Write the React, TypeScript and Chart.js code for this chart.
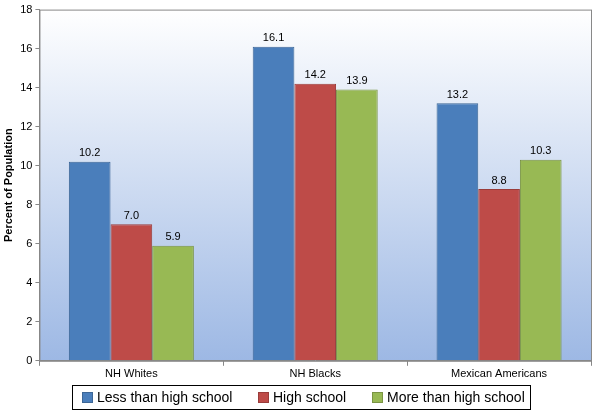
import React, { useEffect, useRef } from "react";
import { Chart, registerables } from "chart.js";
Chart.register(...registerables);

const categories = ["NH Whites", "NH Blacks", "Mexican Americans"];
const seriesNames = ["Less than high school", "High school", "More than high school"];
const lessHS = [10.2, 16.1, 13.2];
const highSchool = [7.0, 14.2, 8.8];
const moreHS = [5.9, 13.9, 10.3];
const colors = ["#4A7EBB", "#BE4B48", "#98B954"];
const borders = ["#3C6696", "#9A3C3A", "#7A9443"];

const bgPlugin = {
  id: "bg",
  beforeDraw(chart: any) {
    const { ctx, chartArea: a } = chart;
    const g = ctx.createLinearGradient(0, a.top, 0, a.bottom);
    g.addColorStop(0, "#FFFFFF");
    g.addColorStop(1, "#9DB8E4");
    ctx.save();
    ctx.fillStyle = g;
    ctx.fillRect(a.left, a.top, a.right - a.left, a.bottom - a.top);
    ctx.restore();
  },
  afterDraw(chart: any) {
    const { ctx, chartArea: a } = chart;
    ctx.save();
    ctx.strokeStyle = "#888";
    ctx.lineWidth = 1;
    ctx.strokeRect(a.left + 0.5, a.top + 0.5, a.right - a.left, a.bottom - a.top);
    ctx.font = "11px Arial, 'Liberation Sans'";
    ctx.fillStyle = "#000";
    ctx.textAlign = "center";
    ctx.textBaseline = "bottom";
    chart.data.datasets.forEach((ds: any, i: number) => {
      chart.getDatasetMeta(i).data.forEach((bar: any, j: number) => {
        ctx.fillText(ds.data[j].toFixed(1), bar.x, bar.y - 3);
      });
    });
    const lx = 72, ly = 385, lw = 458, lh = 24;
    ctx.fillStyle = "#fff";
    ctx.fillRect(lx, ly, lw, lh);
    ctx.strokeStyle = "#000";
    ctx.strokeRect(lx + 0.5, ly + 0.5, lw, lh);
    ctx.font = "14px Arial, 'Liberation Sans'";
    ctx.textAlign = "left";
    ctx.textBaseline = "middle";
    const xs = [82, 258, 372];
    seriesNames.forEach((n, i) => {
      ctx.fillStyle = colors[i];
      ctx.fillRect(xs[i], ly + 7, 10, 10);
      ctx.strokeStyle = borders[i];
      ctx.strokeRect(xs[i] + 0.5, ly + 7.5, 10, 10);
      ctx.fillStyle = "#000";
      ctx.fillText(n, xs[i] + 15, ly + lh / 2 + 1);
    });
    ctx.restore();
  },
};

export default function App() {
  const ref = useRef<HTMLCanvasElement>(null);
  useEffect(() => {
    document.body.style.margin = "0";
    const data = [lessHS, highSchool, moreHS];
    const chart = new Chart(ref.current!, {
      type: "bar",
      data: {
        labels: categories,
        datasets: seriesNames.map((n, i) => ({
          label: n,
          data: data[i],
          backgroundColor: colors[i],
          borderColor: borders[i],
          borderWidth: 1,
          categoryPercentage: 0.68,
          barPercentage: 1,
        })),
      },
      options: {
        animation: false,
        responsive: false,
        layout: { padding: { top: 6, right: 12, bottom: 34, left: 0 } },
        plugins: { legend: { display: false }, tooltip: { enabled: false } },
        scales: {
          x: {
            grid: { display: true, drawOnChartArea: false, offset: true, tickLength: 5, color: "#888" },
            border: { color: "#888" },
            ticks: { color: "#000", padding: 2, font: { size: 11, family: "Arial, 'Liberation Sans'" } },
          },
          y: {
            min: 0,
            max: 18,
            ticks: { stepSize: 2, color: "#000", padding: 3, font: { size: 11, family: "Arial, 'Liberation Sans'" } },
            grid: { display: true, drawOnChartArea: false, tickLength: 4, color: "#888" },
            border: { color: "#888" },
            title: {
              display: true,
              text: "Percent of Population",
              color: "#000",
              padding: 2,
              font: { size: 11, weight: "bold", family: "Arial, 'Liberation Sans'" },
            },
          },
        },
      },
      plugins: [bgPlugin],
    });
    return () => chart.destroy();
  }, []);
  return <canvas ref={ref} width={603} height={417} style={{ display: "block" }} />;
}
